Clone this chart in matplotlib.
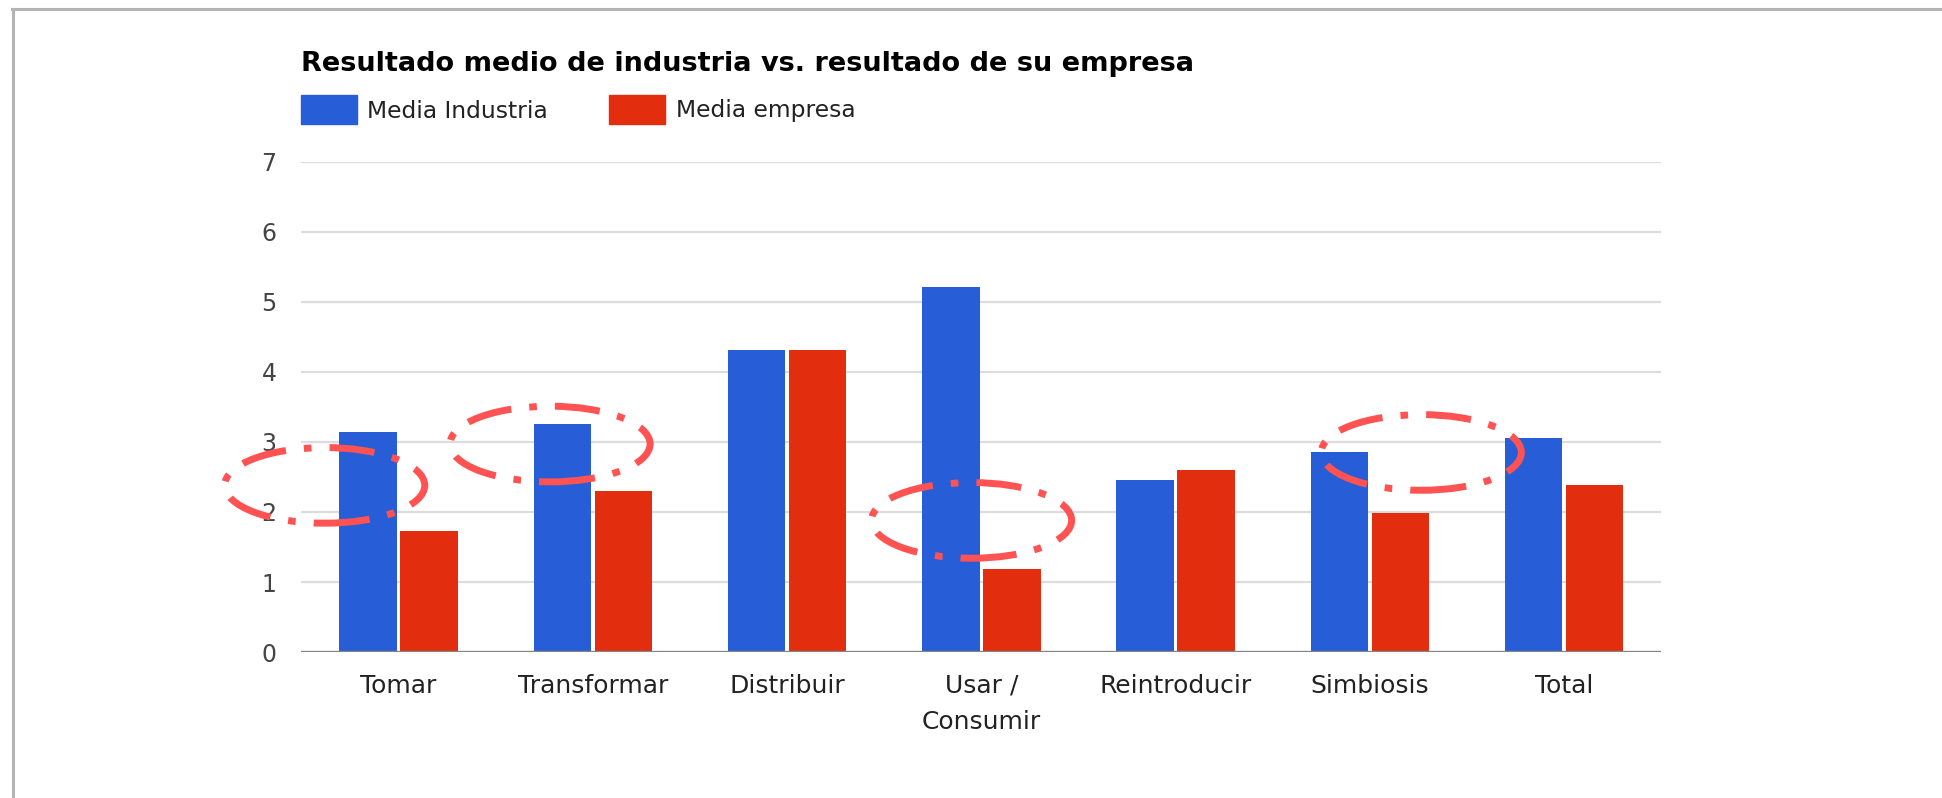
import matplotlib
matplotlib.use("Agg")
import matplotlib.pyplot as plt
from matplotlib.patches import Ellipse, Rectangle
from matplotlib.lines import Line2D
import numpy as np

# ---- data ----
categories = ["Tomar", "Transformar", "Distribuir", "Usar /\nConsumir",
              "Reintroducir", "Simbiosis", "Total"]
media_industria = [3.14, 3.26, 4.31, 5.21, 2.45, 2.85, 3.05]
media_empresa = [1.73, 2.30, 4.31, 1.18, 2.60, 1.99, 2.39]
series_names = ["Media Industria", "Media empresa"]
title = "Resultado medio de industria vs. resultado de su empresa"
y_ticks = [0, 1, 2, 3, 4, 5, 6, 7]

# hand-drawn highlight ellipses (category position, value level)
highlight_x = [-0.38, 0.78, 2.95, 5.265]
highlight_y = [2.38, 2.97, 1.88, 2.85]

# ---- style ----
BLUE = "#275dd6"
RED = "#e22d0f"
FONT = "DejaVu Sans"
plt.rcParams["font.family"] = [FONT]

W, H = 1942, 798
fig = plt.figure(figsize=(W / 100, H / 100), dpi=100)
fig.patch.set_facecolor("white")

ax = fig.add_axes([301.4 / W, 1 - 652.1 / H, 1359.8 / W, 490.4 / H])
x = np.arange(len(categories))
bw = 0.296
off = 0.157
ax.bar(x - off, media_industria, bw, color=BLUE, zorder=2)
ax.bar(x + off, media_empresa, bw, color=RED, zorder=2)

ax.set_xlim(-0.5, len(categories) - 0.5)
ax.set_ylim(0, 7)
ax.set_yticks(y_ticks)
ax.set_yticklabels([str(t) for t in y_ticks])
ax.set_xticks(x)
ax.set_xticklabels(categories, linespacing=1.65)
ax.tick_params(axis="y", length=0, pad=18, labelsize=17, labelcolor="#444444")
ax.tick_params(axis="x", length=0, pad=15.5, labelsize=18, labelcolor="#222222")
for s in ax.spines.values():
    s.set_visible(False)
for t in y_ticks[1:]:
    ax.axhline(t, color="#dcdcdc", lw=1.6, zorder=1)
ax.axhline(0, color="#858585", lw=2.4, zorder=3)

# highlight ellipses
for cx, cy in zip(highlight_x, highlight_y):
    e = Ellipse((cx, cy), 1.03, 1.08, fill=False, edgecolor="#ff5252",
                lw=5, linestyle=(0, (6.5, 2.6, 1.1, 2.6)), zorder=4,
                clip_on=False)
    e.set_capstyle("butt")
    ax.add_patch(e)

# title
fig.text(301 / W, 1 - 71 / H, title, fontsize=19.5, fontweight="bold",
         color="black", ha="left", va="baseline")

# legend (manual)
leg = [(301, series_names[0], BLUE, 367), (609, series_names[1], RED, 676)]
for sx, name, col, tx in leg:
    fig.patches.append(Rectangle((sx / W, 1 - 124 / H), 56 / W, 29 / H,
                                 transform=fig.transFigure, facecolor=col,
                                 edgecolor=col, lw=1))
    fig.text(tx / W, 1 - 111 / H, name, fontsize=16.8, color="#222222",
             ha="left", va="center")

# frame border (top and left)
fig.add_artist(Line2D([12 / W, 1], [1 - 8.5 / H, 1 - 8.5 / H],
                      transform=fig.transFigure, color="#b4b4b4", lw=2.2))
fig.add_artist(Line2D([13 / W, 13 / W], [0, 1 - 8.5 / H],
                      transform=fig.transFigure, color="#b4b4b4", lw=2.2))

fig.savefig("out.png", dpi=100, facecolor="white")
